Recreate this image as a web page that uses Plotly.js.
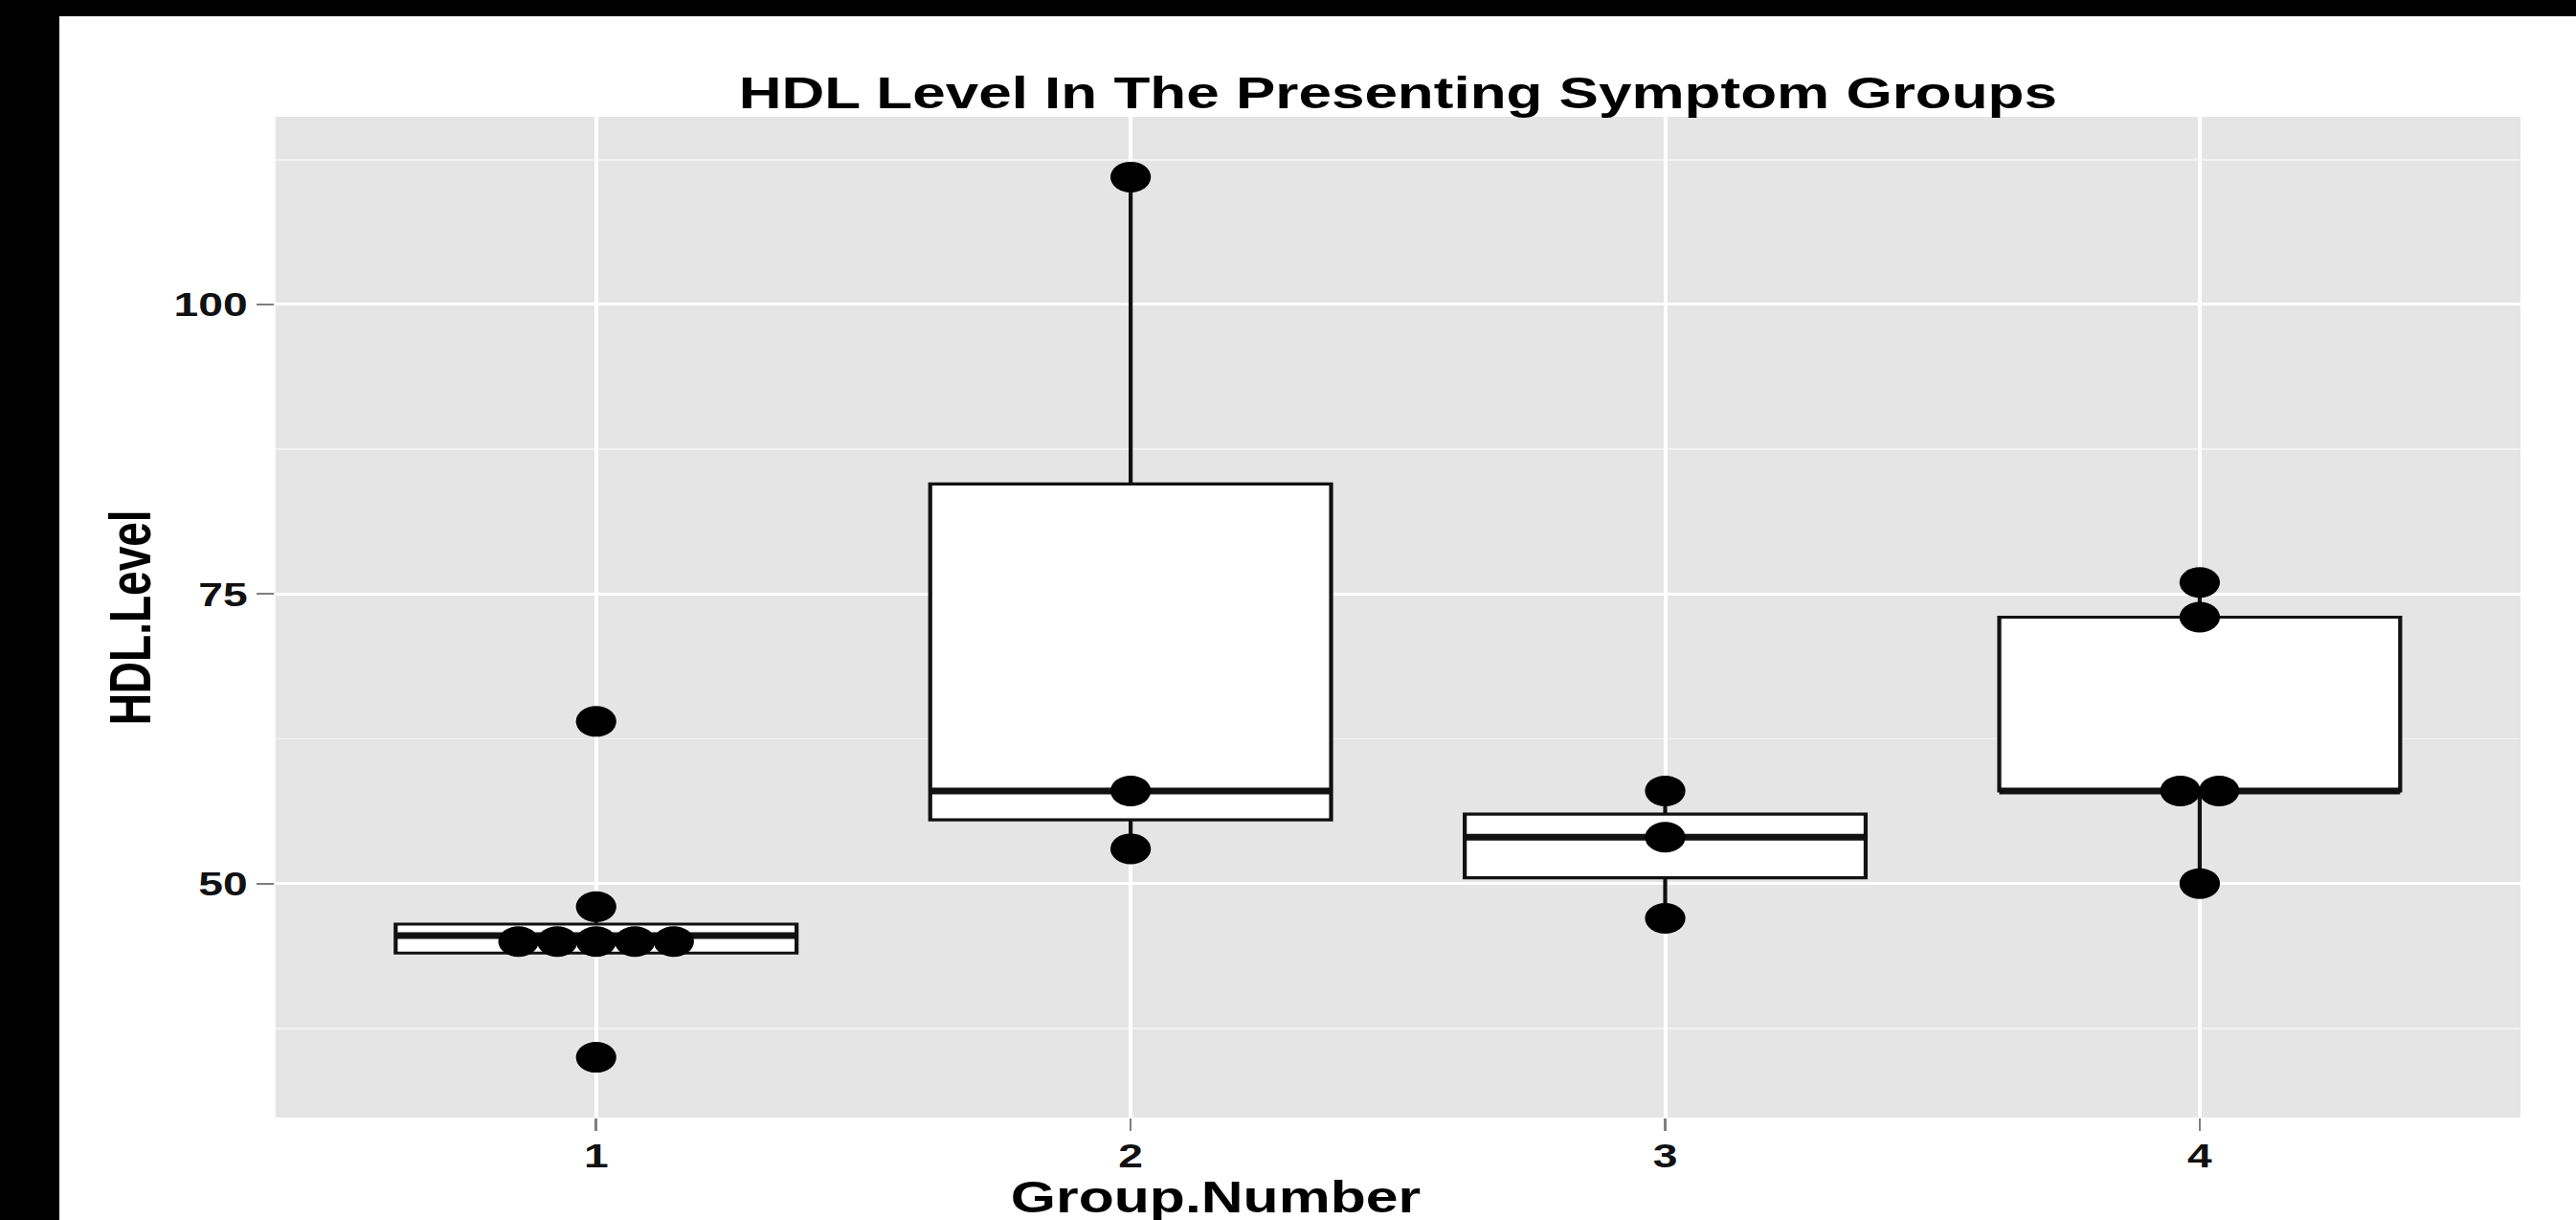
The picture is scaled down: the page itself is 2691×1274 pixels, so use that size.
<!DOCTYPE html>
<html>
<head>
<meta charset="utf-8">
<script src="https://cdn.plot.ly/plotly-3.0.1.min.js"></script>
<style>
html, body { margin: 0; padding: 0; background: #000; width: 2691px; height: 1274px; overflow: hidden; }
#wrap { position: absolute; left: 62px; top: 17px; width: 2629px; height: 1257px; background: #fff; overflow: hidden; }
#chart { position: absolute; left: 0; top: 0; width: 1992px; height: 1257px; transform: scaleX(1.3198); transform-origin: 0 0; }
</style>
</head>
<body>
<div id="wrap"><div id="chart"></div></div>
<script>
// ---- data ----
const groups = [1, 2, 3, 4];
const tickLabels = ['1', '2', '3', '4'];
const hdlGroup1 = [35, 44, 44, 45, 46, 46, 48, 64];
const hdlGroup2 = [53, 58, 111];
const hdlGroup3 = [47, 54, 58];
const hdlGroup4 = [50, 58, 58, 73, 76];
const yTickVals = [50, 75, 100];
const titleText = 'HDL Level In The Presenting Symptom Groups';
const xTitleText = 'Group.Number';
const yTitleText = 'HDL.Level';

const groupData = [hdlGroup1, hdlGroup2, hdlGroup3, hdlGroup4];

// ---- statistics (R type-7 quantiles, Tukey whiskers) ----
function quantile7(sorted, p) {
  const h = (sorted.length - 1) * p;
  const lo = Math.floor(h);
  const hi = Math.min(lo + 1, sorted.length - 1);
  return sorted[lo] + (h - lo) * (sorted[hi] - sorted[lo]);
}
const q1 = [], med = [], q3 = [], lowF = [], upF = [];
groupData.forEach(vals => {
  const s = vals.slice().sort((a, b) => a - b);
  const a = quantile7(s, 0.25), m = quantile7(s, 0.5), b = quantile7(s, 0.75);
  const iqr = b - a;
  q1.push(a); med.push(m); q3.push(b);
  lowF.push(Math.min(...s.filter(v => v >= a - 1.5 * iqr)));
  upF.push(Math.max(...s.filter(v => v <= b + 1.5 * iqr)));
});

// ---- dot-density binning (like geom_dotplot, binaxis = y, stackdir = center) ----
const allVals = [].concat(...groupData);
const binwidth = (Math.max(...allVals) - Math.min(...allVals)) / 30;
const dotStep = 0.0726;  // horizontal spacing between stacked dots (x units)
const dotX = [], dotY = [];
groupData.forEach((vals, gi) => {
  const s = vals.slice().sort((a, b) => a - b);
  let i = 0;
  while (i < s.length) {
    const start = s[i];
    let j = i;
    while (j + 1 < s.length && s[j + 1] <= start + binwidth) j++;
    const center = (s[i] + s[j]) / 2;
    const k = j - i + 1;
    for (let t = 0; t < k; t++) {
      dotX.push(groups[gi] + (t - (k - 1) / 2) * dotStep);
      dotY.push(center);
    }
    i = j + 1;
  }
});

// ---- thick median segments ----
const boxWidth = 0.75;
const medX = [], medY = [];
groups.forEach((g, i) => {
  medX.push(g - boxWidth / 2, g + boxWidth / 2, null);
  medY.push(med[i], med[i], null);
});

const FONT = 'Liberation Sans, Arial, Helvetica, sans-serif';
const INK = '#111111';

const traces = [
  {
    type: 'box',
    x: groups,
    q1: q1, median: med, q3: q3,
    lowerfence: lowF, upperfence: upF,
    width: boxWidth,
    whiskerwidth: 0,
    boxpoints: false,
    fillcolor: '#ffffff',
    line: { color: INK, width: 3.2 },
    hoverinfo: 'skip',
    showlegend: false
  },
  {
    type: 'scatter', mode: 'lines',
    x: medX, y: medY,
    line: { color: INK, width: 7 },
    hoverinfo: 'skip', showlegend: false
  },
  {
    type: 'scatter', mode: 'markers',
    x: dotX, y: dotY,
    marker: { color: '#000000', size: 32, line: { width: 0 } },
    hoverinfo: 'skip', showlegend: false
  }
];

const layout = {
  width: 1992, height: 1257,
  margin: { l: 171, r: 44, t: 105, b: 107, pad: 0 },
  paper_bgcolor: '#ffffff',
  plot_bgcolor: '#e5e5e5',
  font: { family: FONT, color: INK },
  showlegend: false,
  title: {
    text: titleText,
    font: { family: FONT, size: 47, weight: 700, color: '#000000' },
    x: 0.5, xref: 'paper', xanchor: 'center',
    y: 1 - 80 / 1257, yref: 'container', yanchor: 'middle'
  },
  xaxis: {
    range: [0.4, 4.6],
    tickmode: 'array', tickvals: groups, ticktext: tickLabels,
    showgrid: true, gridcolor: '#ffffff', gridwidth: 3,
    zeroline: false, showline: false,
    ticks: 'outside', ticklen: 13, tickwidth: 2, tickcolor: '#7f7f7f',
    ticklabelstandoff: -4,
    tickfont: { family: FONT, size: 35, weight: 700, color: INK }
  },
  yaxis: {
    range: [29.8, 116.2],
    tickmode: 'array', tickvals: yTickVals,
    showgrid: true, gridcolor: '#ffffff', gridwidth: 3,
    zeroline: false, showline: false,
    ticks: 'outside', ticklen: 14, tickwidth: 2, tickcolor: '#7f7f7f',
    tickfont: { family: FONT, size: 35, weight: 700, color: INK },
    minor: { tickmode: 'linear', tick0: 0, dtick: 12.5, showgrid: true, gridcolor: '#f2f2f2', gridwidth: 1.5, ticks: '' }
  },
  annotations: [
    {
      text: xTitleText, xref: 'paper', yref: 'paper',
      x: 0.419, y: -0.079, xanchor: 'center', yanchor: 'middle',
      showarrow: false,
      font: { family: FONT, size: 46, weight: 700, color: '#000000' }
    },
    {
      text: yTitleText, xref: 'paper', yref: 'paper',
      x: -0.0648, y: 0.5, xanchor: 'center', yanchor: 'middle',
      textangle: -90, showarrow: false,
      font: { family: FONT, size: 46, weight: 700, color: '#000000' }
    }
  ]
};

Plotly.newPlot('chart', traces, layout, { displayModeBar: false, staticPlot: true });
</script>
</body>
</html>
